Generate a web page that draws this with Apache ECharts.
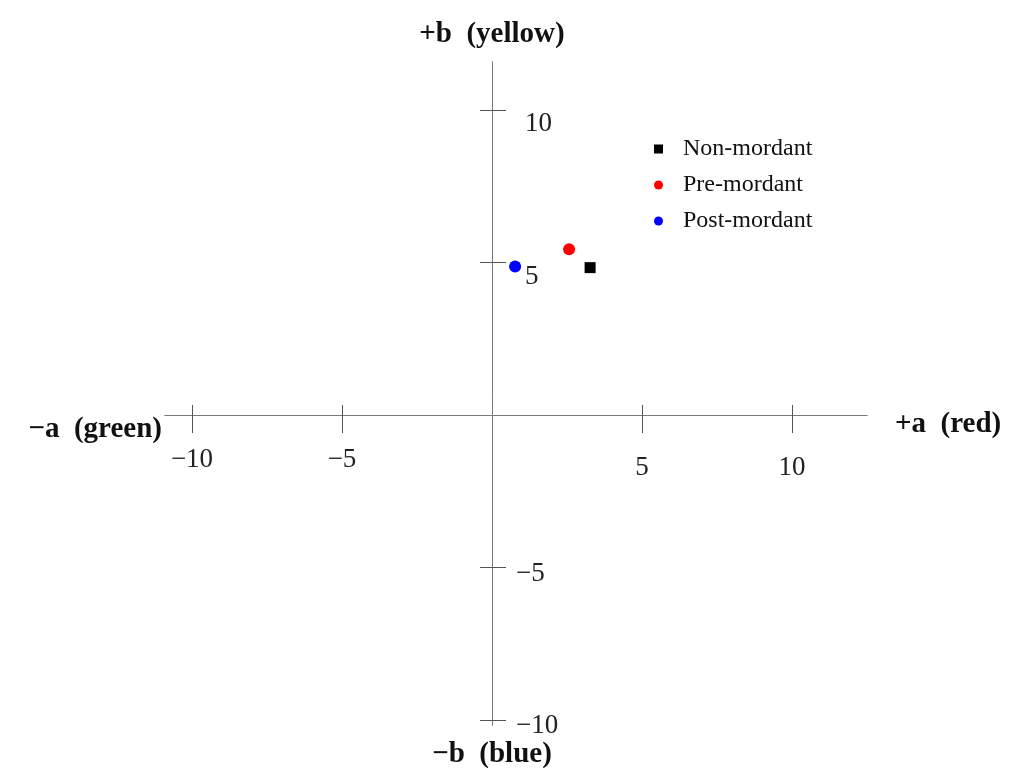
<!DOCTYPE html>
<html><head><meta charset="utf-8">
<script src="https://cdn.jsdelivr.net/npm/echarts@6/dist/echarts.min.js"></script>
<style>html,body{margin:0;padding:0;background:#fff}#c{width:1016px;height:771px}</style>
</head><body><div id="c"></div>
<script>
// ---- data ----
const seriesNames = ['Non-mordant', 'Pre-mordant', 'Post-mordant'];
const aValues = [3.27, 2.57, 0.77];   // +a (red) / -a (green)
const bValues = [4.83, 5.43, 4.87];   // +b (yellow) / -b (blue)
const xTickValues = [-10, -5, 5, 10];
const xTickLabels = ['−10', '−5', '5', '10'];
const yTickValues = [-10, -5, 5, 10];
const yTickLabels = ['−10', '−5', '5', '10'];
const xAxisTitles = ['+a  (red)', '−a  (green)'];
const yAxisTitles = ['+b  (yellow)', '−b  (blue)'];

// ---- styles / layout ----
const colors = ['#000000', '#ff0000', '#0000ff'];
const symbols = ['rect', 'circle', 'circle'];
const symbolSizes = [11, 12, 12];
const X_MIN = -10.9, X_MAX = 12.5, Y_MIN = -10.16, Y_MAX = 11.57;
const G = { left: 165, right: 149, top: 62, bottom: 46 };
const W = 1016, H = 771;
const gw = W - G.left - G.right, gh = H - G.top - G.bottom;
// distance of the zero lines from the grid edges (so the axes cross at the origin)
const zeroFromLeft = (0 - X_MIN) / (X_MAX - X_MIN) * gw;
const zeroFromRight = gw - zeroFromLeft;
const zeroFromTop = (Y_MAX - 0) / (Y_MAX - Y_MIN) * gh;
const zeroFromBottom = gh - zeroFromTop;

const serif = 'Liberation Serif';
const lineCol = '#7a7a7a', tickCol = '#555';
const titleStyle = { fontFamily: serif, fontSize: 29, fontWeight: 'bold', color: '#111' };

function lab(values, labels, v) {
  const i = values.indexOf(v);
  const s = i >= 0 ? labels[i] : String(v);
  return v < 0 ? '{n|' + s + '}' : '{p|' + s + '}';
}

const chart = echarts.init(document.getElementById('c'), null, { renderer: 'canvas' });
chart.setOption({
  animation: false,
  backgroundColor: '#ffffff',
  grid: Object.assign({ outerBoundsMode: 'none', containLabel: false }, G),
  xAxis: [
    {
      type: 'value', min: X_MIN, max: X_MAX, position: 'bottom', offset: -zeroFromBottom,
      axisLine: { onZero: false, lineStyle: { color: lineCol, width: 1 } },
      axisTick: { show: true, length: 18, customValues: xTickValues, lineStyle: { color: tickCol } },
      axisLabel: {
        customValues: xTickValues, margin: 31,
        formatter: v => lab(xTickValues, xTickLabels, v),
        rich: {
          n: { fontFamily: serif, fontSize: 27, color: '#222' },
          p: { fontFamily: serif, fontSize: 27, color: '#222', padding: [8, 0, 0, 0] }
        }
      },
      splitLine: { show: false },
      name: '{t|' + xAxisTitles[0] + '}', nameLocation: 'end', nameGap: 28,
      nameTextStyle: { rich: { t: Object.assign({ padding: [20, 0, 0, 0] }, titleStyle) } }
    },
    {
      type: 'value', min: X_MIN, max: X_MAX, position: 'top', offset: -zeroFromTop,
      axisLine: { onZero: false, lineStyle: { color: lineCol, width: 1 } },
      axisTick: { show: true, length: 10, customValues: xTickValues, lineStyle: { color: tickCol } },
      axisLabel: { show: false },
      splitLine: { show: false },
      name: '{t|' + xAxisTitles[1] + '}', nameLocation: 'start', nameGap: 3,
      nameTextStyle: { rich: { t: Object.assign({ padding: [30, 0, 0, 0] }, titleStyle) } }
    }
  ],
  yAxis: [
    {
      type: 'value', min: Y_MIN, max: Y_MAX, position: 'left', offset: -zeroFromLeft,
      axisLine: { onZero: false, lineStyle: { color: lineCol, width: 1 } },
      axisTick: { show: true, length: 12, customValues: yTickValues, lineStyle: { color: tickCol } },
      axisLabel: { show: false },
      splitLine: { show: false },
      name: yAxisTitles[0], nameLocation: 'end', nameGap: 13,
      nameTextStyle: titleStyle
    },
    {
      type: 'value', min: Y_MIN, max: Y_MAX, position: 'right', offset: -zeroFromRight,
      axisLine: { onZero: false, lineStyle: { color: lineCol, width: 1 } },
      axisTick: { show: true, length: 14, customValues: yTickValues, lineStyle: { color: tickCol } },
      axisLabel: {
        customValues: yTickValues, margin: 24,
        formatter: v => lab(yTickValues, yTickLabels, v),
        rich: {
          n: { fontFamily: serif, fontSize: 27, color: '#222', padding: [12, 0, 0, 0] },
          p: { fontFamily: serif, fontSize: 27, color: '#222', padding: [28, 0, 0, 9] }
        }
      },
      splitLine: { show: false },
      name: yAxisTitles[1], nameLocation: 'start', nameGap: 13,
      nameTextStyle: titleStyle
    }
  ],
  legend: {
    orient: 'vertical', left: 649, top: 132,
    itemWidth: 9, itemHeight: 9, itemGap: 12,
    textStyle: { fontFamily: serif, fontSize: 24, color: '#111', padding: [0, 0, 0, 15] },
    data: seriesNames.map((n, i) => ({ name: n, icon: symbols[i] }))
  },
  series: seriesNames.map((n, i) => ({
    name: n, type: 'scatter', xAxisIndex: 0, yAxisIndex: 0,
    symbol: symbols[i], symbolSize: symbolSizes[i],
    itemStyle: { color: colors[i], opacity: 1 },
    data: [[aValues[i], bValues[i]]]
  }))
});
</script></body></html>
